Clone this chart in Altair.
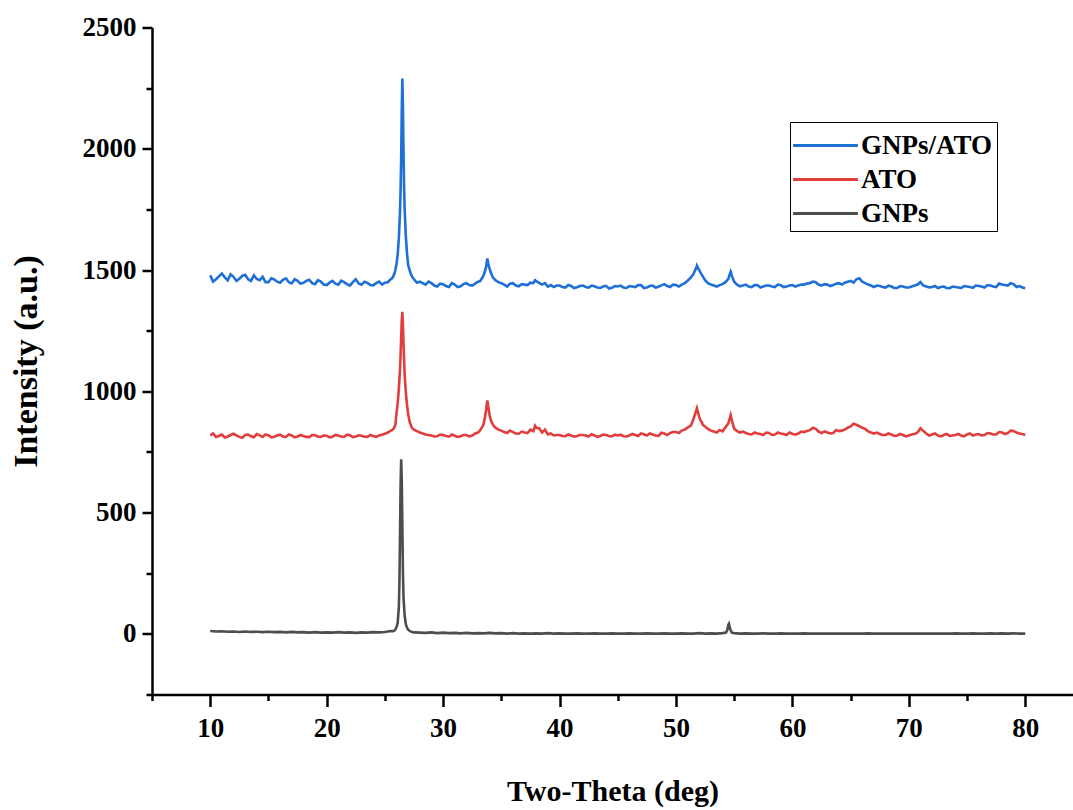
import altair as alt
import pandas as pd

# ---------------- data ----------------
SERIES = ["GNPs/ATO", "ATO", "GNPs"]
COLORS = ["#1E6FD6", "#E23D3D", "#4D4D4D"]

# sampling grid, 10 .. 80 two-theta (0.5 deg) and the in-between points (x.25 / x.75)
GRID_X = [10.0 + 0.5 * i for i in range(141)]
MID_X = [10.25 + 0.5 * i for i in range(140)]

BLUE_Y = [
    1478, 1462, 1486, 1458, 1472, 1464, 1480, 1455, 1463, 1472,
    1450, 1461, 1448, 1466, 1445, 1456, 1447, 1460, 1442, 1452,
    1438, 1455, 1440, 1450, 1436, 1462, 1440, 1447, 1437, 1452,
    1448, 1462, 1525, 2290, 1520, 1462, 1452, 1440, 1446, 1432,
    1442, 1430, 1440, 1433, 1446, 1436, 1452, 1482, 1505, 1458,
    1446, 1432, 1446, 1433, 1440, 1448, 1454, 1440, 1432, 1430,
    1436, 1428, 1434, 1429, 1436, 1428, 1433, 1426, 1435, 1427,
    1432, 1428, 1434, 1430, 1438, 1428, 1436, 1431, 1442, 1430,
    1438, 1440, 1456, 1483, 1500, 1458, 1440, 1432, 1442, 1464,
    1452, 1433, 1440, 1430, 1438, 1432, 1436, 1430, 1437, 1432,
    1438, 1436, 1440, 1446, 1450, 1436, 1440, 1438, 1446, 1448,
    1455, 1462, 1452, 1440, 1430, 1434, 1428, 1432, 1426, 1432,
    1428, 1436, 1450, 1432, 1430, 1426, 1432, 1425, 1430, 1426,
    1432, 1427, 1434, 1428, 1436, 1430, 1440, 1436, 1442, 1434,
    1425,
]
BLUE_MID_Y = [
    1452, 1474, 1470, 1482, 1455, 1476, 1462, 1478, 1458, 1450,
    1466, 1452, 1460, 1450, 1462, 1444, 1455, 1446, 1458, 1440,
    1448, 1444, 1456, 1442, 1450, 1445, 1452, 1438, 1446, 1440,
    1450, 1478, 1685, 1695, 1482, 1448, 1446, 1452, 1436, 1444,
    1434, 1446, 1430, 1442, 1438, 1444, 1460, 1532, 1472, 1450,
    1440, 1444, 1436, 1442, 1438, 1446, 1447, 1446, 1438, 1436,
    1430, 1438, 1426, 1434, 1430, 1436, 1428, 1432, 1424, 1434,
    1436, 1426, 1432, 1438, 1426, 1434, 1428, 1437, 1434, 1440,
    1432, 1446, 1468, 1510, 1478, 1446, 1436, 1438, 1450, 1486,
    1440, 1436, 1432, 1438, 1428, 1436, 1432, 1440, 1430, 1436,
    1432, 1440, 1444, 1452, 1440, 1442, 1434, 1444, 1440, 1452,
    1448, 1466, 1446, 1436, 1436, 1430, 1436, 1426, 1434, 1428,
    1432, 1440, 1436, 1428, 1434, 1430, 1426, 1432, 1428, 1434,
    1430, 1436, 1432, 1438, 1432, 1444, 1438, 1446, 1430, 1428,
]
BLUE_PEAK_X = [25.6, 25.7, 25.8, 25.9, 26.1, 26.2, 26.3, 26.35, 26.4, 26.45,
               26.55, 26.6, 26.65, 26.7, 26.8, 26.9, 27.1, 27.2, 27.3, 27.4,
               33.2, 33.4, 33.6, 33.7, 33.8, 33.9, 34.1, 34.2, 34.3,
               37.8, 37.9, 51.6, 51.7, 51.8, 51.9, 52.1, 54.6, 54.7, 54.8]
BLUE_PEAK_Y = [1465, 1472, 1483, 1500, 1565, 1630, 1740, 1830, 1960, 2150,
               2180, 1990, 1840, 1750, 1640, 1570, 1505, 1488, 1476, 1468,
               1455, 1470, 1495, 1515, 1548, 1520, 1490, 1478, 1468,
               1450, 1458, 1495, 1505, 1518, 1508, 1490, 1480, 1493, 1476]

RED_Y = [
    818, 812, 822, 814, 825, 812, 820, 815, 824, 812,
    819, 813, 821, 812, 818, 814, 816, 811, 819, 812,
    817, 813, 818, 812, 819, 814, 817, 812, 816, 818,
    825, 838, 910, 1328, 905, 842, 830, 822, 818, 815,
    820, 813, 817, 815, 820, 818, 830, 870, 900, 850,
    838, 828, 832, 825, 830, 842, 850, 830, 822, 818,
    820, 815, 818, 816, 820, 814, 818, 816, 820, 814,
    818, 815, 818, 820, 826, 818, 822, 816, 826, 828,
    832, 838, 850, 885, 895, 855, 838, 830, 835, 868,
    846, 830, 828, 822, 826, 820, 828, 822, 826, 820,
    825, 826, 832, 840, 845, 828, 830, 828, 836, 842,
    855, 862, 850, 835, 826, 824, 820, 822, 818, 820,
    818, 824, 848, 826, 822, 818, 820, 816, 820, 818,
    822, 818, 824, 820, 826, 822, 830, 828, 836, 826,
    820,
]
RED_MID_Y = [
    826, 816, 810, 820, 818, 808, 822, 811, 818, 822,
    810, 818, 814, 822, 810, 820, 812, 820, 814, 818,
    810, 820, 814, 821, 811, 819, 813, 820, 812, 821,
    830, 846, 1050, 1032, 858, 836, 826, 820, 814, 822,
    816, 822, 812, 820, 814, 826, 846, 944, 865, 842,
    832, 838, 826, 834, 828, 836, 848, 842, 826, 820,
    816, 822, 813, 820, 818, 823, 812, 822, 816, 821,
    821, 814, 824, 816, 823, 826, 818, 829, 820, 832,
    828, 842, 858, 922, 870, 845, 834, 840, 852, 892,
    836, 834, 824, 830, 824, 830, 820, 830, 824, 830,
    821, 834, 836, 850, 834, 835, 826, 840, 838, 850,
    866, 856, 845, 830, 830, 820, 826, 816, 824, 814,
    822, 830, 836, 818, 826, 814, 824, 818, 824, 814,
    826, 822, 818, 828, 822, 832, 824, 838, 830, 824,
]
RED_PEAK_X = [25.6, 25.8, 25.9, 26.1, 26.2, 26.3, 26.35, 26.4, 26.45, 26.55,
              26.6, 26.65, 26.7, 26.8, 26.9, 27.1, 27.2, 27.3, 27.4,
              33.2, 33.4, 33.6, 33.7, 33.8, 33.9, 34.1, 34.2, 34.3,
              37.9, 51.3, 51.6, 51.7, 51.8, 51.9, 52.1, 52.3, 54.6, 54.7, 54.8]
RED_PEAK_Y = [840, 850, 862, 950, 1010, 1090, 1150, 1220, 1290, 1270,
              1200, 1130, 1070, 995, 945, 880, 865, 852, 845,
              840, 855, 895, 925, 962, 930, 880, 870, 860,
              858, 860, 900, 915, 930, 912, 880, 862, 885, 902, 880]

GRAY_Y = [
    12, 10, 11, 9, 10, 8, 10, 8, 9, 7,
    9, 7, 8, 6, 8, 6, 7, 5, 7, 5,
    6, 5, 7, 5, 6, 4, 6, 5, 7, 6,
    8, 12, 28, 450, 17, 6, 5, 4, 6, 3,
    5, 3, 4, 2, 4, 2, 3, 2, 4, 2,
    3, 1, 3, 1, 2, 1, 2, 1, 3, 1,
    2, 1, 1, 2, 1, 1, 2, 1, 1, 2,
    1, 1, 2, 1, 1, 2, 1, 1, 2, 1,
    1, 2, 1, 1, 3, 1, 2, 1, 3, 38,
    3, 1, 2, 1, 1, 2, 1, 1, 2, 1,
    1, 1, 2, 1, 1, 1, 1, 1, 1, 1,
    1, 1, 1, 2, 1, 1, 1, 1, 1, 1,
    1, 1, 1, 1, 1, 1, 1, 1, 2, 1,
    1, 2, 1, 1, 2, 1, 2, 1, 2, 1,
    1,
]
GRAY_PEAK_X = [25.7, 25.8, 25.9, 26.1, 26.2, 26.25, 26.3, 26.35, 26.4, 26.45,
               26.55, 26.6, 26.7, 26.8, 26.9, 27.2, 27.4,
               54.3, 54.4, 54.55, 54.65, 54.8]
GRAY_PEAK_Y = [11, 13, 18, 45, 110, 210, 400, 610, 720, 630,
               260, 150, 75, 40, 26, 10, 7,
               5, 15, 42, 20, 5]

X_MAJOR = [10, 20, 30, 40, 50, 60, 70, 80]
X_MINOR = [5, 15, 25, 35, 45, 55, 65, 75]
Y_MAJOR = [0, 500, 1000, 1500, 2000, 2500]
Y_MINOR = [-250, 250, 750, 1250, 1750, 2250]


def build(name, ys, mids, px, py):
    pts = dict(zip(GRID_X, ys))
    if mids is not None:
        pts.update(dict(zip(MID_X, mids)))
    pts.update(dict(zip(px, py)))
    return [{"theta": x, "intensity": pts[x], "series": name} for x in sorted(pts)]


rows = (build("GNPs/ATO", BLUE_Y, BLUE_MID_Y, BLUE_PEAK_X, BLUE_PEAK_Y)
        + build("ATO", RED_Y, RED_MID_Y, RED_PEAK_X, RED_PEAK_Y)
        + build("GNPs", GRAY_Y, None, GRAY_PEAK_X, GRAY_PEAK_Y))
df = pd.DataFrame(rows)

FONT = "Liberation Serif"
xscale = alt.Scale(domain=[5, 84.1], nice=False, zero=False)
yscale = alt.Scale(domain=[-250, 2500], nice=False, zero=False)

lines = alt.Chart(df).mark_line(strokeWidth=2.6, clip=True).encode(
    x=alt.X("theta:Q", scale=xscale,
            axis=alt.Axis(values=X_MAJOR, title="Two-Theta (deg)", orient="bottom",
                          tickSize=12, tickWidth=2.5, domainWidth=2.5,
                          domainColor="black", tickColor="black", format="d",
                          labelFont=FONT, labelFontWeight="bold", labelFontSize=27,
                          labelColor="black", labelPadding=9,
                          titleFont=FONT, titleFontWeight="bold", titleFontSize=30,
                          titleColor="black", titlePadding=35, grid=False)),
    y=alt.Y("intensity:Q", scale=yscale,
            axis=alt.Axis(values=Y_MAJOR, title="Intensity (a.u.)", orient="left",
                          tickSize=10, tickWidth=2.5, domainWidth=2.5,
                          domainColor="black", tickColor="black", format="d",
                          labelFont=FONT, labelFontWeight="bold", labelFontSize=27,
                          labelColor="black", labelPadding=6,
                          titleFont=FONT, titleFontWeight="bold", titleFontSize=34,
                          titleColor="black", titlePadding=39, grid=False)),
    color=alt.Color("series:N",
                    scale=alt.Scale(domain=SERIES, range=COLORS),
                    legend=alt.Legend(title=None, orient="none", legendX=638, legendY=94.5,
                                      symbolType="M-1.8,0H1.8", symbolSize=1296,
                                      symbolStrokeWidth=3, symbolOffset=12,
                                      labelFont=FONT,
                                      labelFontWeight="bold", labelFontSize=27,
                                      labelColor="black", labelOffset=16,
                                      strokeColor="black", padding=4,
                                      rowPadding=1)),
    order="theta:Q",
)

minor = alt.Chart(pd.DataFrame({"theta": [10.0], "intensity": [0.0]})).mark_point(opacity=0).encode(
    x=alt.X("theta:Q", scale=xscale,
            axis=alt.Axis(values=X_MINOR, title=None, orient="bottom", labels=False,
                          domain=False, tickSize=6, tickWidth=2.5, tickColor="black",
                          grid=False)),
    y=alt.Y("intensity:Q", scale=yscale,
            axis=alt.Axis(values=Y_MINOR, title=None, orient="left", labels=False,
                          domain=False, tickSize=6, tickWidth=2.5, tickColor="black",
                          grid=False)),
)

chart = alt.layer(lines, minor).resolve_axis(x="independent", y="independent").properties(
    width=921, height=667,
    autosize=alt.AutoSizeParams(type="none"),
    padding={"left": 152, "top": 27.5, "right": 0, "bottom": 115.5},
    background="white",
).configure_view(stroke=None)

chart.save("out.html", embed_options={"renderer": "svg", "actions": False})
